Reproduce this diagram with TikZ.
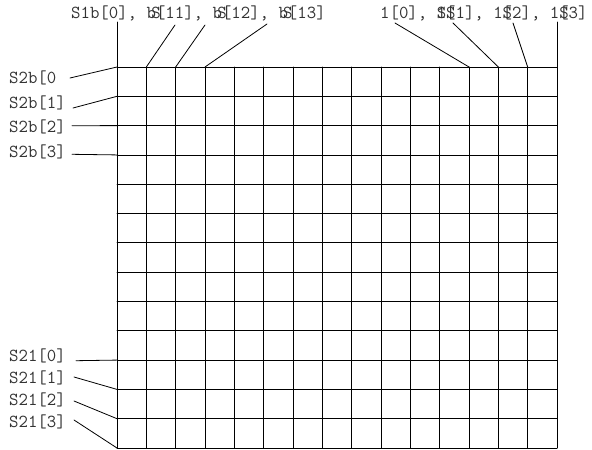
\documentclass[tikz,border=0pt]{standalone}
\usepackage{fontspec}
\begin{document}
\begin{tikzpicture}[x=1pt,y=-1pt,
  lbl/.style={font=\ttfamily\fontsize{18.3}{18.3}\selectfont, text=black!80, inner sep=0pt, anchor=west},
  wire/.style={line width=0.8pt, line cap=round}]
\useasboundingbox (0,0) rectangle (592,450);

% crossbar grid: 15 columns, 13 rows
\foreach \i in {0,...,15} {
  \coordinate (t\i) at ({117+\i*440/15},67);
  \coordinate (u\i) at ({117+\i*440/15},448);
}
\foreach \j in {0,...,13} {
  \coordinate (l\j) at (117,{67+\j*381/13});
  \coordinate (r\j) at (557,{67+\j*381/13});
}
\foreach \i in {0,...,15} \draw[wire] (t\i) -- (u\i);
\foreach \j in {0,...,13} \draw[wire] (l\j) -- (r\j);

% column labels
\node[lbl] (s1b) at (71,13) {S1b[0], b\rlap{\kern-0.26em S}[11], b\rlap{\kern-0.26em S}[12], b\rlap{\kern-0.26em S}[13]};
\node[lbl] (s1l) at (380,13) {1[0], \rlap{S}1\rlap{S}[1], 1\rlap{S}[2], 1\rlap{S}[3]};

\coordinate (a0) at (117,22);
\coordinate (a1) at (175,25);
\coordinate (a2) at (205,25);
\coordinate (a3) at (267,24);
\coordinate (b0) at (395,23);
\coordinate (b1) at (453,23);
\coordinate (b2) at (513,23);
\coordinate (b3) at (557,22);
\draw[wire] (a0) -- (t0);
\draw[wire] (a1) -- (t1);
\draw[wire] (a2) -- (t2);
\draw[wire] (a3) -- (t3);
\draw[wire] (b0) -- (t12);
\draw[wire] (b1) -- (t13);
\draw[wire] (b2) -- (t14);
\draw[wire] (b3) -- (t15);

% row labels
\node[lbl] (s2b0) at (9,78) {S2b[0};
\node[lbl] (s2b1) at (9,103) {S2b[1]};
\node[lbl] (s2b2) at (9,127) {S2b[2]};
\node[lbl] (s2b3) at (9,152) {S2b[3]};
\node[lbl] (s2l0) at (9,356) {S21[0]};
\node[lbl] (s2l1) at (9,378) {S21[1]};
\node[lbl] (s2l2) at (9,400) {S21[2]};
\node[lbl] (s2l3) at (9,422) {S21[3]};

\coordinate (p0) at (70,78);
\coordinate (p1) at (73,108);
\coordinate (p2) at (72,125.7);
\coordinate (p3) at (72,154.3);
\coordinate (q0) at (76,360.7);
\coordinate (q1) at (74,377);
\coordinate (q2) at (74,401);
\coordinate (q3) at (74,420);
\draw[wire] (p0) -- (l0);
\draw[wire] (p1) -- (l1);
\draw[wire] (p2) -- (l2);
\draw[wire] (p3) -- (l3);
\draw[wire] (q0) -- (l10);
\draw[wire] (q1) -- (l11);
\draw[wire] (q2) -- (l12);
\draw[wire] (q3) -- (l13);
\end{tikzpicture}
\end{document}
